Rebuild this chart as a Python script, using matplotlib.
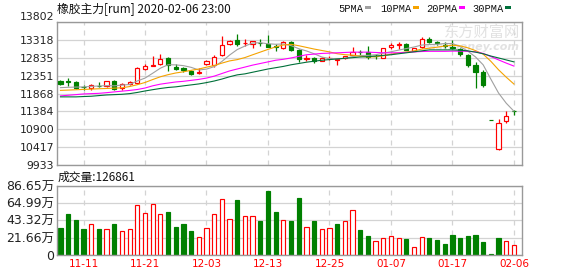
"""
橡胶主力日K线 + 成交量
"""
import matplotlib
matplotlib.use("Agg")
import matplotlib.pyplot as plt
from matplotlib.patches import Rectangle

plt.rcParams["font.family"] = ["DejaVu Sans", "Noto Sans CJK SC"]

# K线数据 (开 高 低 收)
opens = [12219, 12200, 12193, 12060, 12008, 12080, 12070, 12219, 12008, 12131,
         12158, 12545, 12623, 12659, 12835, 12597, 12553, 12483, 12440, 12676,
         12641, 12905, 13213, 13318, 13230, 13213, 13245, 13221, 13160, 13098,
         13256, 13054, 12817, 12844, 12756, 12826, 12790, 12835, 12905, 13000,
         13010, 12895, 12835, 13124, 13200, 13213, 13037, 13124, 13362, 13265,
         13195, 13142, 13080, 12922, 12641, 12465, 11165, 10377, 11129, 11400]
highs = [12245, 12290, 12200, 12100, 12131, 12185, 12219, 12245, 12160, 12200,
         12600, 12660, 12900, 12949, 12870, 12668, 12590, 12500, 12570, 12790,
         12905, 13432, 13318, 13476, 13362, 13290, 13345, 13450, 13210, 13290,
         13300, 13080, 12905, 12870, 12860, 12887, 12810, 12900, 13125, 13063,
         13168, 12950, 13110, 13239, 13274, 13230, 13110, 13415, 13390, 13300,
         13274, 13318, 13100, 12940, 12729, 12500, 11165, 11190, 11393, 11428]
lows = [12105, 12070, 11982, 11970, 11955, 12045, 12060, 11970, 11960, 12090,
        12140, 12520, 12615, 12640, 12483, 12500, 12448, 12360, 12395, 12650,
        12600, 12880, 13190, 13160, 13170, 13098, 13170, 13130, 13037, 13080,
        13030, 12729, 12765, 12694, 12740, 12773, 12640, 12820, 12895, 12922,
        12800, 12800, 12830, 13080, 13080, 13040, 13020, 13110, 13230, 13185,
        13098, 13090, 12887, 12588, 12026, 12052, 11160, 10351, 11076, 11278]
closes = [12131, 12185, 12026, 12050, 12096, 12070, 12219, 11982, 12131, 12175,
          12553, 12606, 12640, 12817, 12641, 12535, 12500, 12413, 12455, 12764,
          12870, 13195, 13283, 13204, 13240, 13283, 13230, 13142, 13140, 13274,
          13063, 12817, 12835, 12756, 12835, 12840, 12800, 12879, 13002, 12990,
          12852, 12887, 13098, 13186, 13215, 13063, 13098, 13362, 13256, 13250,
          13170, 13098, 12940, 12641, 12465, 12096, 11160, 11059, 11260, 11384]

# 均线
ma5 = [12030, 12040, 12045, 12050, 12065, 12075, 12085, 12080, 12100, 12115,
       12212, 12289, 12421, 12558, 12651, 12648, 12627, 12581, 12509, 12533,
       12600, 12739, 12913, 13063, 13158, 13241, 13248, 13220, 13207, 13214,
       13170, 13087, 13026, 12949, 12861, 12817, 12813, 12822, 12871, 12902,
       12905, 12922, 12966, 13003, 13048, 13090, 13132, 13185, 13199, 13206,
       13227, 13227, 13143, 13020, 12863, 12648, 12260, 11884, 11608, 11392]
ma10 = [11956, 11964, 11973, 11982, 11991, 12000, 12008, 12017, 12026, 12060,
        12110, 12170, 12250, 12325, 12382, 12428, 12460, 12500, 12535, 12585,
        12630, 12695, 12755, 12790, 12846, 12921, 12994, 13067, 13135, 13186,
        13205, 13167, 13122, 13077, 13038, 12999, 12950, 12924, 12910, 12882,
        12861, 12868, 12894, 12937, 12975, 12997, 13027, 13075, 13101, 13127,
        13159, 13180, 13164, 13110, 13035, 12938, 12744, 12514, 12314, 12128]
ma20 = [11806, 11824, 11841, 11859, 11868, 11876, 11894, 11915, 11935, 11955,
        11980, 12020, 12080, 12125, 12155, 12184, 12202, 12228, 12254, 12290,
        12342, 12413, 12483, 12536, 12588, 12641, 12685, 12729, 12773, 12799,
        12835, 12878, 12922, 12940, 12958, 12966, 12975, 12984, 12993, 12993,
        12993, 12984, 12975, 12975, 12975, 12985, 13000, 13010, 13015, 13015,
        13015, 13020, 13020, 13015, 13000, 12958, 12873, 12783, 12696, 12615]
ma30 = [11780, 11780, 11780, 11789, 11797, 11815, 11832, 11841, 11850, 11868,
        11900, 11940, 11975, 12008, 12035, 12052, 12079, 12105, 12131, 12167,
        12210, 12263, 12325, 12377, 12404, 12448, 12492, 12536, 12571, 12606,
        12650, 12685, 12720, 12747, 12773, 12791, 12808, 12826, 12843, 12861,
        12870, 12887, 12905, 12922, 12949, 12975, 13002, 13028, 13054, 13054,
        13054, 13054, 13045, 13028, 12993, 12949, 12887, 12835, 12782, 12729]

# 成交量 (万手), 1 = 涨 (红), 0 = 跌 (绿)
volume = [33.8, 51.0, 43.7, 32.5, 38.3, 32.5, 32.5, 38.3, 30.0, 32.0,
          62.0, 52.0, 63.3, 50.8, 53.8, 35.0, 38.3, 30.0, 22.0, 33.3,
          50.8, 69.6, 44.6, 68.8, 48.3, 48.3, 42.5, 80.0, 53.8, 43.3,
          42.5, 71.3, 34.6, 42.5, 32.0, 33.3, 38.75, 42.0, 55.8, 31.25,
          23.75, 17.5, 20.8, 23.3, 20.8, 20.0, 9.6, 22.0, 21.25, 18.75,
          13.75, 25.0, 21.25, 23.75, 25.0, 16.25, 1.25, 21.25, 17.5, 12.69]
vol_up = [0, 0, 0, 0, 1, 0, 1, 0, 1, 1,
          1, 1, 1, 1, 0, 0, 0, 0, 1, 1,
          1, 1, 1, 0, 1, 1, 0, 0, 0, 1,
          0, 0, 1, 0, 1, 1, 0, 1, 1, 0,
          0, 1, 1, 1, 1, 0, 1, 1, 0, 0,
          0, 0, 0, 0, 0, 0, 0, 0, 1, 1]

tick_pos = [3, 11, 19, 27, 35, 43, 51, 59]
tick_labels = ["11-11", "11-21", "12-03", "12-13", "12-25", "01-07", "01-17", "02-06"]
price_ticks = [9933, 10417, 10900, 11384, 11868, 12351, 12835, 13318, 13802]
vol_ticks = [0, 21.66, 43.32, 64.99, 86.65]

RED = "#FF0000"
GREEN = "#008000"
GRID = "#D3D3D3"
FRAME = "#999999"
W, H = 578, 276

fig = plt.figure(figsize=(W / 100, H / 100), dpi=100)
ax = fig.add_axes([57 / W, 1 - 165 / H, 465 / W, 142.7 / H])
axv = fig.add_axes([57 / W, 1 - 255 / H, 465 / W, 69.3 / H])

x = list(range(len(closes)))

for a in (ax, axv):
    a.set_xlim(-0.45, 60.05)
    a.set_xticks(tick_pos)
    a.set_axisbelow(True)
    a.grid(axis="y", color=GRID, lw=0.9)
    a.grid(axis="x", color=GRID, lw=0.9, ls=(0, (4, 4)))
    a.tick_params(length=0, pad=2, colors="#222222")
    for s in a.spines.values():
        s.set_color(FRAME)
        s.set_linewidth(1.0)

# K线
for i in x:
    o, h, l, c = opens[i], highs[i], lows[i], closes[i]
    lo, hi = min(o, c), max(o, c)
    body = max(hi - lo, 6)
    if c >= o:
        ax.vlines(i, hi, h, color=RED, lw=0.9, zorder=2)
        ax.vlines(i, l, lo, color=RED, lw=0.9, zorder=2)
        ax.bar(i, body, bottom=lo, width=0.55, facecolor="white",
               edgecolor=RED, lw=0.85, zorder=3)
    else:
        ax.vlines(i, l, h, color=GREEN, lw=0.9, zorder=2)
        ax.bar(i, body, bottom=lo, width=0.55, facecolor=GREEN,
               edgecolor=GREEN, lw=0.85, zorder=3)

ax.plot(x, ma5, color="#A0A0A0", lw=0.8, zorder=4)
ax.plot(x, ma10, color="#F5A300", lw=0.8, zorder=4)
ax.plot(x, ma20, color="#FF00FF", lw=0.8, zorder=4)
ax.plot(x, ma30, color="#00703A", lw=0.8, zorder=4)

ax.set_ylim(price_ticks[0], price_ticks[-1])
ax.set_yticks(price_ticks)
ax.set_yticklabels([str(v) for v in price_ticks], fontsize=7.8)
ax.set_xticklabels([])
ax.yaxis.get_major_ticks()[-1].label1.set_verticalalignment("bottom")

# 水印
ax.text(0.995, 0.985, "东方财富网", transform=ax.transAxes, ha="right", va="top",
        fontsize=11, color="#E2E2E2", zorder=1)
ax.text(0.995, 0.86, "eastmoney.com", transform=ax.transAxes, ha="right", va="top",
        fontsize=8, color="#E2E2E2", style="italic", weight="bold", zorder=1)

# 成交量
for i in x:
    if vol_up[i]:
        axv.bar(i, volume[i], width=0.55, facecolor="white", edgecolor=RED, lw=0.85)
    else:
        axv.bar(i, volume[i], width=0.55, facecolor=GREEN, edgecolor=GREEN, lw=0.85)

axv.set_ylim(0, vol_ticks[-1])
axv.set_yticks(vol_ticks)
axv.set_yticklabels(["0" if v == 0 else f"{v:.2f}万" for v in vol_ticks], fontsize=9)
axv.set_xticklabels(tick_labels, fontsize=7.5, color=RED)
axv.tick_params(axis="x", pad=3, colors=RED)

# 标题和图例
fig.text(57 / W, 1 - 9.5 / H, "橡胶主力[rum] 2020-02-06 23:00", fontsize=8.5,
         va="center", ha="left", color="#111111", family=["Noto Sans CJK SC"])
fig.text(58 / W, 1 - 177 / H, "成交量:126861", fontsize=8.5,
         va="center", ha="left", color="#111111", family=["Noto Sans CJK SC"])

legend = [("5PMA", "#A0A0A0", 338, 365), ("10PMA", "#F5A300", 380, 413),
          ("20PMA", "#FF00FF", 426, 459), ("30PMA", "#00703A", 472, 505)]
for name, col, tx, sx in legend:
    fig.text(tx / W, 1 - 8.7 / H, name, fontsize=7.5, va="center", ha="left",
             color="#111111", family=["Liberation Mono"])
    fig.add_artist(Rectangle((sx / W, 1 - 8.8 / H), 6 / W, 2.6 / H,
                             transform=fig.transFigure, facecolor=col, edgecolor="none"))

fig.savefig("out.png", dpi=100)
